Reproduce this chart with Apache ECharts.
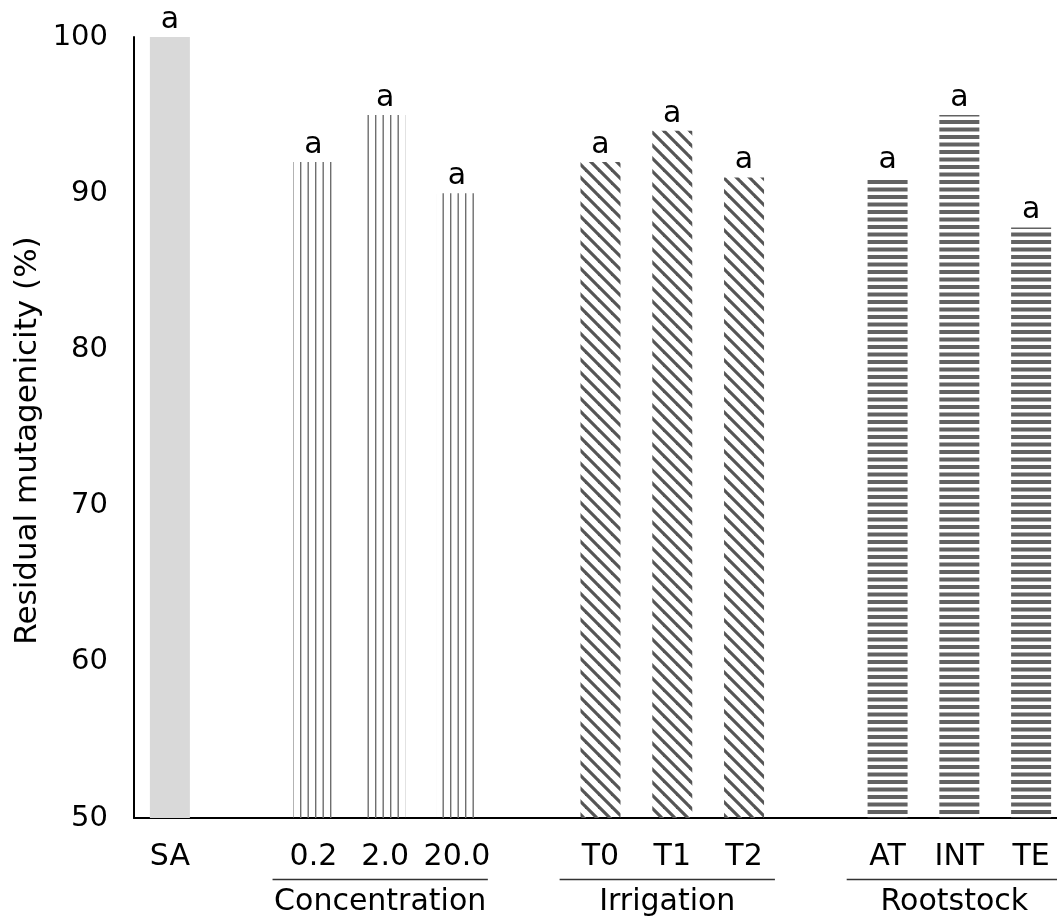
<!DOCTYPE html>
<html>
<head>
<meta charset="utf-8">
<script src="https://cdn.jsdelivr.net/npm/echarts@6/dist/echarts.min.js"></script>
<style>html,body{margin:0;padding:0;background:#fff}#c{width:1057px;height:920px}</style>
</head>
<body>
<div id="c"></div>
<script>
// ---- data ----
const controlLabels = ['SA'];
const controlValues = [100];
const concentrationLabels = ['0.2', '2.0', '20.0'];
const concentrationValues = [92, 95, 90];
const irrigationLabels = ['T0', 'T1', 'T2'];
const irrigationValues = [92, 94, 91];
const rootstockLabels = ['AT', 'INT', 'TE'];
const rootstockValues = [91, 95, 87.8];
const groupNames = ['Concentration', 'Irrigation', 'Rootstock'];
const letters = ['a', 'a', 'a', 'a', 'a', 'a', 'a', 'a', 'a', 'a'];
const yTicks = [50, 60, 70, 80, 90, 100];
const yTitle = 'Residual mutagenicity (%)';

(function () {
// ---- patterns ----
function mkCanvas(w, h) { const c = document.createElement('canvas'); c.width = w; c.height = h; return c; }
function verticalPattern() {
  const c = mkCanvas(15, 10), g = c.getContext('2d');
  g.fillStyle = '#6e6e6e';
  g.fillRect(0, 0, 1.4, 10);
  g.fillRect(7.5, 0, 1.4, 10);
  return c;
}
function diagonalPattern() {
  const s = 13, c = mkCanvas(s, s), g = c.getContext('2d');
  g.strokeStyle = '#555';
  g.lineWidth = 3.2;
  for (const k of [-1, 0, 1]) {
    g.beginPath();
    g.moveTo(-2, -2 + k * s);
    g.lineTo(s + 2, s + 2 + k * s);
    g.stroke();
  }
  return c;
}
function horizontalPattern() {
  const c = mkCanvas(10, 15), g = c.getContext('2d');
  g.fillStyle = '#626262';
  g.fillRect(0, 0, 10, 4);
  g.fillRect(0, 7.5, 10, 4);
  return c;
}

// ---- build categories ----
const groups = [
  { labels: controlLabels, values: controlValues, fill: '#d9d9d9' },
  { labels: concentrationLabels, values: concentrationValues, fill: { image: verticalPattern(), repeat: 'repeat' }, name: groupNames[0] },
  { labels: irrigationLabels, values: irrigationValues, fill: { image: diagonalPattern(), repeat: 'repeat' }, name: groupNames[1] },
  { labels: rootstockLabels, values: rootstockValues, fill: { image: horizontalPattern(), repeat: 'repeat' }, name: groupNames[2] }
];
const categories = [];
const data = [];
const groupSpans = [];
let li = 0;
groups.forEach((gr, gi) => {
  if (gi > 0) { categories.push(' '.repeat(gi)); data.push(null); }
  const start = categories.length;
  gr.labels.forEach((lab, i) => {
    categories.push(lab);
    data.push({ value: gr.values[i], itemStyle: { color: gr.fill }, letter: letters[li++] });
  });
  if (gr.name) groupSpans.push({ name: gr.name, start: start, end: categories.length - 1 });
});

const FONT = 'DejaVu Sans';
const chart = echarts.init(document.getElementById('c'), null, { renderer: 'canvas' });
chart.setOption({
  animation: false,
  backgroundColor: '#fff',
  textStyle: { fontFamily: FONT },
  grid: { left: 134, right: -10, top: 37, bottom: 102, containLabel: false, outerBoundsMode: 'none' },
  xAxis: {
    type: 'category',
    data: categories,
    axisLine: { lineStyle: { color: '#000', width: 2 } },
    axisTick: { show: false },
    axisLabel: { color: '#000', fontSize: 30, fontFamily: FONT, margin: 24, interval: 0 }
  },
  yAxis: {
    type: 'value',
    min: yTicks[0], max: yTicks[yTicks.length - 1], interval: 10,
    splitLine: { show: false },
    axisLine: { show: true, lineStyle: { color: '#000', width: 2 } },
    axisTick: { show: false },
    axisLabel: { color: '#000', fontSize: 29, fontFamily: FONT, margin: 26 }
  },
  series: [{
    type: 'bar',
    data: data,
    barWidth: 40,
    label: {
      show: true, position: 'top', distance: 2,
      color: '#000', fontSize: 30, fontFamily: FONT,
      formatter: p => p.data && p.data.letter
    }
  }]
});

// ---- group lines and labels + y title ----
const step = chart.convertToPixel({ xAxisIndex: 0 }, 1) - chart.convertToPixel({ xAxisIndex: 0 }, 0);
const baseY = chart.convertToPixel({ yAxisIndex: 0 }, yTicks[0]);
const topY = chart.convertToPixel({ yAxisIndex: 0 }, yTicks[yTicks.length - 1]);
const graphics = [];
groupSpans.forEach(sp => {
  const x0 = chart.convertToPixel({ xAxisIndex: 0 }, sp.start) - step / 2 - 5;
  const x1 = chart.convertToPixel({ xAxisIndex: 0 }, sp.end) + step / 2 - 5;
  const ly = Math.round(baseY + 61) + 0.5;
  graphics.push({ type: 'line', shape: { x1: x0, y1: ly, x2: Math.min(x1, 1057), y2: ly }, style: { stroke: '#333', lineWidth: 1.5 } });
  graphics.push({ type: 'text', x: (x0 + x1) / 2, y: baseY + 84, style: { text: sp.name, font: '30px "' + FONT + '"', fill: '#000', align: 'center', verticalAlign: 'middle' } });
});
graphics.push({ type: 'text', x: 28, y: (topY + baseY) / 2 + 13, rotation: Math.PI / 2, style: { text: yTitle, font: '31px "' + FONT + '"', fill: '#000', align: 'center', verticalAlign: 'middle' } });
chart.setOption({ graphic: graphics });
})();
</script>
</body>
</html>
